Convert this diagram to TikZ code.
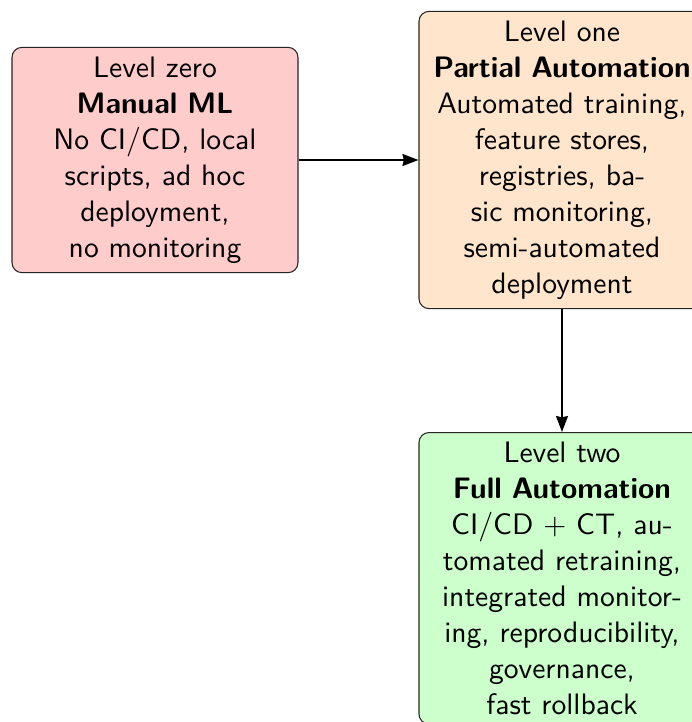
\documentclass[tikz,border=0pt]{standalone}
\usepackage{fontspec}
\setsansfont{lmsans10-regular.otf}[BoldFont=lmsans10-bold.otf]
\usetikzlibrary{arrows.meta}
\begin{document}
\begin{tikzpicture}[x=0.75pt,y=-0.75pt,
  level/.style={draw=black!85, line width=0.8pt, rounded corners=7.5pt,
    align=center, text width=206pt, inner xsep=4.25pt, inner ysep=7pt,
    font=\sffamily\fontsize{22.2pt}{27pt}\selectfont},
  flow/.style={-{Stealth[length=12pt,width=9pt,inset=1pt]}, line width=1.2pt}]
  \useasboundingbox (0,0) rectangle (692,722);
  \node[level, fill=red!20] (zero) at (155,160)
    {Level zero\\\textbf{Manual ML}\\No CI/CD, local\\scripts, ad hoc\\deployment,\\no monitoring};
  \node[level, fill=orange!20] (one) at (562,160)
    {Level one\\\textbf{Partial Automation}\\Automated training,\\feature stores,\\registries, ba-\\sic monitoring,\\semi-automated\\deployment};
  \node[level, fill=green!20, anchor=north] (two) at (562,432)
    {Level two\\\textbf{Full Automation}\\CI/CD + CT, au-\\tomated retraining,\\integrated monitor-\\ing, reproducibility,\\governance,\\fast rollback};
  \draw[flow] (zero) -- (one);
  \draw[flow] (one) -- (two);
\end{tikzpicture}
\end{document}
